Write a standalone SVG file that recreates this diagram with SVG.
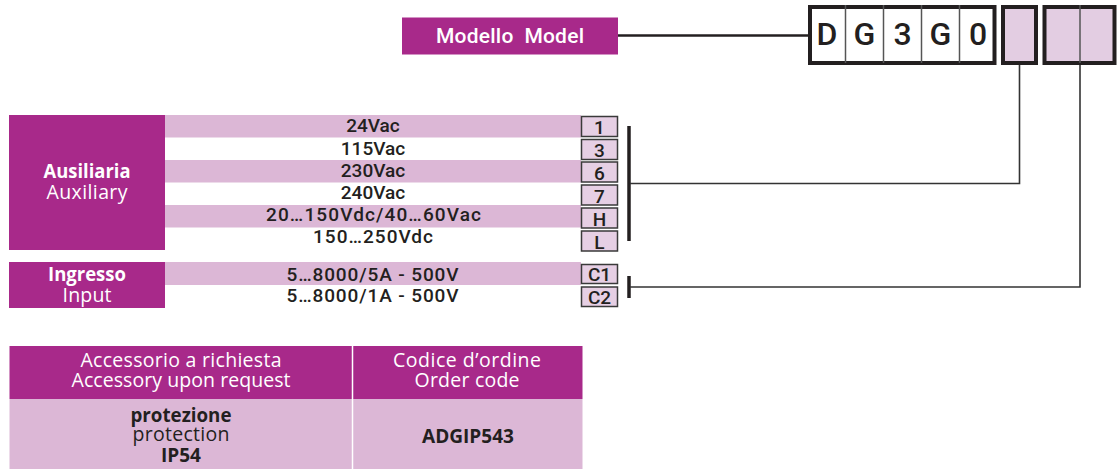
<svg xmlns="http://www.w3.org/2000/svg" width="1120" height="472" viewBox="0 0 1120 472">
<style>
.purple{fill:#a8298a}
.pink{fill:#dcb7d6}
.code{fill:#e6cfe4;stroke:#3a3a3a;stroke-width:1.5}
.row{font-family:Roboto,"Liberation Sans",sans-serif;font-weight:500;font-size:19px;fill:#231f20;text-anchor:middle}
.lbl{font-family:Roboto,"Liberation Sans",sans-serif;font-weight:500;font-size:19px;fill:#231f20;text-anchor:middle}
.big{font-family:Roboto,"Liberation Sans",sans-serif;font-weight:500;font-size:32px;fill:#231f20;text-anchor:middle}
.hw{font-family:"Open Sans","Noto Sans",sans-serif;font-size:19.5px;fill:#ffffff;text-anchor:middle}
.hb{font-family:"Open Sans","Noto Sans",sans-serif;font-size:19.5px;fill:#231f20;text-anchor:middle}
.b{font-weight:700}
.conn{fill:none;stroke:#333333;stroke-width:1.6}
.bar{stroke:#231f20;stroke-width:3.5}
</style>

<g id="model">
<rect class="purple" x="402" y="17.5" width="216" height="37"/>
<text x="510" y="42.5" font-family="Roboto,'Liberation Sans',sans-serif" font-weight="500" font-size="21" fill="#fff" text-anchor="middle" textLength="148" lengthAdjust="spacing" xml:space="preserve">Modello  Model</text>
</g>

<g id="code-fixed">
<rect x="810" y="7" width="184.5" height="56" fill="#fff" stroke="#231f20" stroke-width="4"/>
<g stroke="#555" stroke-width="1.5">
<line x1="845.5" y1="5" x2="845.5" y2="63"/>
<line x1="883.5" y1="5" x2="883.5" y2="63"/>
<line x1="921.5" y1="5" x2="921.5" y2="63"/>
<line x1="959.5" y1="5" x2="959.5" y2="63"/>
</g>
<text class="big" x="827" y="44.5">D</text>
<text class="big" x="864.5" y="44.5">G</text>
<text class="big" x="902.5" y="44.5">3</text>
<text class="big" x="940.5" y="44.5">G</text>
<text class="big" x="978" y="44.5">0</text>
</g>

<g id="code-aux">
<rect x="1003" y="7" width="33" height="56" fill="#e3cde2" stroke="#231f20" stroke-width="4"/>
</g>
<g id="code-input">
<rect x="1044.5" y="7" width="70" height="56" fill="#e3cde2" stroke="#231f20" stroke-width="4"/>
<line x1="1080" y1="5" x2="1080" y2="63" stroke="#555" stroke-width="1.5"/>
</g>

<g id="auxiliary">
<rect class="purple" x="9" y="115" width="156" height="135"/>
<text class="hw b" x="87" y="178" font-size="18.5" textLength="87" lengthAdjust="spacingAndGlyphs">Ausiliaria</text>
<text class="hw" x="87" y="198.5" font-size="19" textLength="81" lengthAdjust="spacing">Auxiliary</text>
<rect class="pink" x="165" y="115" width="416" height="22.5"/>
<rect class="pink" x="165" y="160" width="416" height="22.5"/>
<rect class="pink" x="165" y="205" width="416" height="22.5"/>
<text class="row" x="373" y="132">24Vac</text>
<text class="row" x="373" y="154.5">115Vac</text>
<text class="row" x="373" y="176.5">230Vac</text>
<text class="row" x="373" y="199">240Vac</text>
<text class="row" x="373.5" y="221" textLength="215" lengthAdjust="spacing">20…150Vdc/40…60Vac</text>
<text class="row" x="373" y="243" textLength="120" lengthAdjust="spacing">150…250Vdc</text>
<rect class="code" x="581.5" y="116.5" width="36" height="20"/>
<rect class="code" x="581.5" y="139.5" width="36" height="20"/>
<rect class="code" x="581.5" y="162" width="36" height="20"/>
<rect class="code" x="581.5" y="185" width="36" height="20"/>
<rect class="code" x="581.5" y="208" width="36" height="20"/>
<rect class="code" x="581.5" y="231" width="36" height="20"/>
<text class="lbl" x="599.5" y="134">1</text>
<text class="lbl" x="599.5" y="157">3</text>
<text class="lbl" x="599.5" y="179.5">6</text>
<text class="lbl" x="599.5" y="202.5">7</text>
<text class="lbl" x="599.5" y="225.5">H</text>
<text class="lbl" x="599.5" y="248.5">L</text>
</g>

<g id="input">
<rect class="purple" x="9" y="262" width="156" height="46"/>
<text class="hw b" x="87" y="281" font-size="18.5" textLength="78" lengthAdjust="spacingAndGlyphs">Ingresso</text>
<text class="hw" x="87" y="301.5" font-size="19" textLength="49" lengthAdjust="spacing">Input</text>
<rect class="pink" x="165" y="262" width="416" height="23"/>
<text class="row" x="372.5" y="281" textLength="172" lengthAdjust="spacing">5…8000/5A - 500V</text>
<text class="row" x="372.5" y="302" textLength="172" lengthAdjust="spacing">5…8000/1A - 500V</text>
<rect class="code" x="581.5" y="264.5" width="36" height="19"/>
<rect class="code" x="581.5" y="287" width="36" height="19.5"/>
<text class="lbl" x="599.5" y="281">C1</text>
<text class="lbl" x="599.5" y="304">C2</text>
</g>

<g id="connectors">
<line x1="618" y1="35.5" x2="808" y2="35.5" stroke="#231f20" stroke-width="2.5"/>
<line class="bar" x1="629" y1="126" x2="629" y2="241"/>
<line class="bar" x1="629" y1="276" x2="629" y2="298"/>
<polyline class="conn" points="1019.5,65 1019.5,183.5 630,183.5"/>
<polyline class="conn" points="1080,65 1080,287 630,287"/>
</g>

<g id="accessory-table">
<rect class="purple" x="9.5" y="346" width="573" height="53"/>
<rect class="pink" x="9.5" y="399" width="573" height="70"/>
<line x1="352.5" y1="346" x2="352.5" y2="469" stroke="#fff" stroke-width="1.5"/>
<text class="hw" x="181" y="367" textLength="201" lengthAdjust="spacing">Accessorio a richiesta</text>
<text class="hw" x="181" y="386.5" textLength="219" lengthAdjust="spacing">Accessory upon request</text>
<text class="hw" x="467" y="367" textLength="148" lengthAdjust="spacing">Codice d’ordine</text>
<text class="hw" x="467" y="386.5" textLength="105" lengthAdjust="spacing">Order code</text>
<text class="hb b" x="181" y="421.5" font-size="18.5" textLength="101" lengthAdjust="spacingAndGlyphs">protezione</text>
<text class="hb" x="181" y="441" textLength="97" lengthAdjust="spacing">protection</text>
<text class="hb b" x="181" y="461.5" font-size="18.5" textLength="40" lengthAdjust="spacingAndGlyphs">IP54</text>
<text class="hb b" x="468" y="443" font-size="18.5" textLength="92" lengthAdjust="spacingAndGlyphs">ADGIP543</text>
</g>
</svg>
